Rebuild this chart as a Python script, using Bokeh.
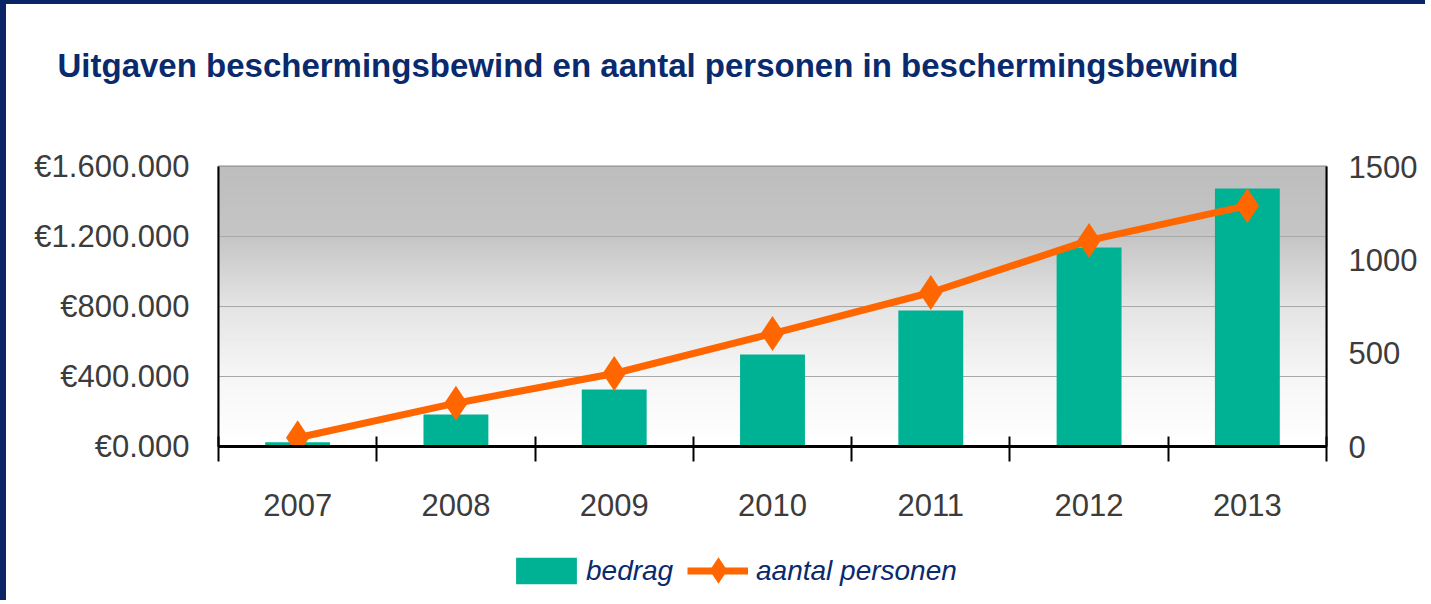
import numpy as np
from bokeh.plotting import figure
from bokeh.layouts import column
from bokeh.models import (FactorRange, Range1d, LinearAxis, CategoricalAxis, FixedTicker,
                          BoxAnnotation, Legend, LegendItem, Grid, Title)
from bokeh.embed import file_html
from bokeh.resources import INLINE

# ---- data ----
years = ["2007", "2008", "2009", "2010", "2011", "2012", "2013"]
bedrag = [25000, 183000, 326000, 526000, 777000, 1137000, 1474000]
aantal_personen = [47, 232, 391, 605, 825, 1104, 1290]
left_ticks = [0, 400000, 800000, 1200000, 1600000]
left_tick_labels = ["€0.000", "€400.000", "€800.000", "€1.200.000", "€1.600.000"]
right_ticks = [0, 500, 1000, 1500]
title_text = "Uitgaven beschermingsbewind en aantal personen in beschermingsbewind"
legend_labels = ["bedrag", "aantal personen"]

NAVY = "#0a2a6e"
FRAME = "#0a2466"
GREEN = "#00b294"
ORANGE = "#ff6600"
TXT = "#3c3c3c"
FONT = "Liberation Sans"

p = figure(x_range=FactorRange(*years), y_range=Range1d(0, left_ticks[-1]),
           width=1425, height=527,
           min_border_left=212, min_border_right=105, min_border_top=162, min_border_bottom=85,
           x_axis_type=None, y_axis_type=None,
           output_backend="svg", toolbar_location=None,
           background_fill_color="white", border_fill_color="white")
p.styles = {"border-left": "6px solid " + FRAME, "border-top": "4px solid " + FRAME}

p.extra_y_ranges = {"persons": Range1d(0, right_ticks[-1])}

# spacer between title and frame
p.add_layout(Title(text=" ", text_font_size="10px", standoff=70), "above")

# title
p.title.text = title_text
p.title.text_font = FONT
p.title.text_font_style = "bold"
p.title.text_font_size = "33px"
p.title.text_color = NAVY
p.title.align = "left"
p.title.offset = -161
p.title.standoff = 0

# gradient background (overlapping strips to avoid seams)
prof_f = [0.0, 0.25, 0.5, 0.75, 1.0]
prof_g = [255, 246, 228, 197, 189]
n = 140
ymax = left_ticks[-1]
for i in range(n):
    f = (i + 0.5) / n
    g = int(round(np.interp(f, prof_f, prof_g)))
    p.add_layout(BoxAnnotation(bottom=i / n * ymax, top=min(i + 2, n) / n * ymax,
                               fill_color=(g, g, g), fill_alpha=1.0, line_color=None,
                               level="image"))

p.add_layout(Grid(dimension=1, ticker=FixedTicker(ticks=left_ticks),
                  grid_line_color="#a8a8a8", grid_line_width=1))

p.outline_line_color = "#8a8a8a"
p.outline_line_width = 2

p.vbar(x=years, top=bedrag, width=0.41, fill_color=GREEN, line_color=None)
p.line(x=years, y=aantal_personen, y_range_name="persons", line_color=ORANGE, line_width=7)
p.scatter(x=years, y=aantal_personen, y_range_name="persons", marker="diamond",
          size=35, fill_color=ORANGE, line_color=None)

# left axis
la = LinearAxis(ticker=FixedTicker(ticks=left_ticks),
                major_label_overrides={t: l for t, l in zip(left_ticks, left_tick_labels)},
                major_tick_in=0, major_tick_out=0, minor_tick_line_color=None,
                axis_line_color="black", axis_line_width=2,
                major_label_standoff=29, major_label_text_font=FONT,
                major_label_text_font_size="31px", major_label_text_color=TXT)
p.add_layout(la, "left")

# right axis
ra = LinearAxis(y_range_name="persons", ticker=FixedTicker(ticks=right_ticks),
                major_tick_in=0, major_tick_out=0, minor_tick_line_color=None,
                axis_line_color="black", axis_line_width=2,
                major_label_standoff=22, major_label_text_font=FONT,
                major_label_text_font_size="31px", major_label_text_color=TXT)
p.add_layout(ra, "right")

# x axis: boundary ticks
bounds = list(range(len(years) + 1))
ta = LinearAxis(ticker=FixedTicker(ticks=bounds),
                major_tick_in=10, major_tick_out=15, major_tick_line_width=2,
                major_tick_line_color="black", minor_tick_line_color=None,
                axis_line_color="black", axis_line_width=3,
                major_label_text_font_size="1px", major_label_text_color=None,
                major_label_standoff=0)
p.add_layout(ta, "below")

# x axis: category labels
ca = CategoricalAxis(major_tick_line_color=None, axis_line_color=None,
                     major_label_standoff=26, major_label_text_font=FONT,
                     major_label_text_font_size="31px", major_label_text_color=TXT)
p.add_layout(ca, "below")

# ---- legend strip below the chart (series drawn out of view, used only as legend keys) ----
q = figure(x_range=FactorRange(*years), y_range=Range1d(1e8, 2e8),
           width=1425, height=73, min_border=0,
           x_axis_type=None, y_axis_type=None,
           output_backend="svg", toolbar_location=None,
           background_fill_color="white", border_fill_color="white")
q.styles = {"border-left": "6px solid " + FRAME}
q.outline_line_color = None
q.xgrid.visible = False
q.ygrid.visible = False
lb = q.vbar(x=years, top=bedrag, width=0.41, fill_color=GREEN, line_color=None)
ll = q.line(x=years, y=aantal_personen, line_color=ORANGE, line_width=7)
lp = q.scatter(x=years, y=aantal_personen, marker="diamond", size=26,
               fill_color=ORANGE, line_color=None)

common = dict(orientation="horizontal", label_text_font=FONT, label_text_font_style="italic",
              label_text_font_size="28px", label_text_color=NAVY,
              border_line_color=None, background_fill_alpha=0, padding=0, margin=0)

leg_a = Legend(items=[LegendItem(label=legend_labels[0], renderers=[lb])],
               location=(290, 13), glyph_width=76, glyph_height=33, label_height=33,
               label_standoff=2, **common)
leg_b = Legend(items=[LegendItem(label=legend_labels[1], renderers=[ll])],
               location=(469, 13), glyph_width=61, glyph_height=33, label_height=33,
               label_standoff=8, **common)
leg_c = Legend(items=[LegendItem(label=" ", renderers=[lp])],
               location=(467, -3), glyph_width=66, glyph_height=66, label_height=20,
               label_standoff=0, **common)
q.add_layout(leg_a, "center")
q.add_layout(leg_b, "center")
q.add_layout(leg_c, "center")

layout = column(p, q, spacing=0)
open("out.html", "w").write(file_html(layout, INLINE))
